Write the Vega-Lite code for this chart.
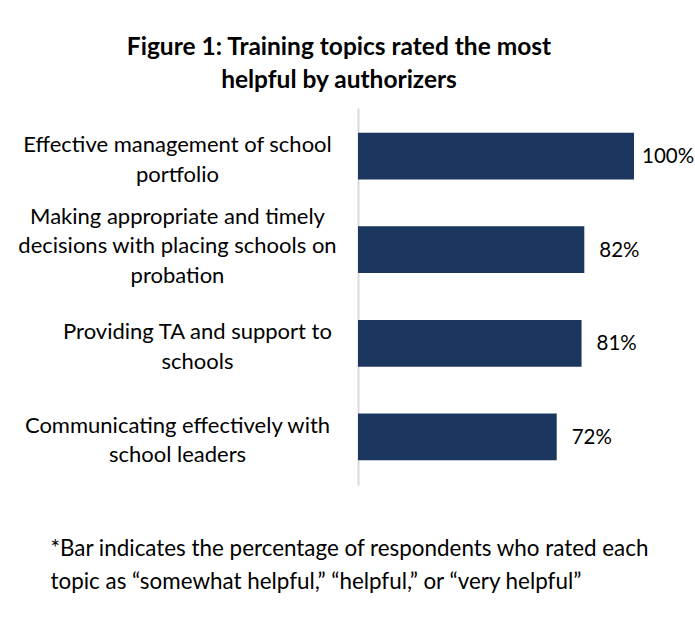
{
  "$schema": "https://vega.github.io/schema/vega-lite/v6.json",
  "autosize": {"type": "none"},
  "width": 276,
  "height": 377,
  "padding": {"left": 358, "top": 108, "right": 61, "bottom": 136},
  "background": "white",
  "title": {
    "text": ["Figure 1: Training topics rated the most", "helpful by authorizers"],
    "font": "Lato",
    "fontSize": 24.5,
    "fontWeight": "bold",
    "color": "#000000",
    "anchor": "middle",
    "dx": -157,
    "offset": 15,
    "lineHeight": 33
  },
  "data": {
    "values": [
      {"topic": "Effective management of school\nportfolio", "share": 1.0},
      {"topic": "Making appropriate and timely\ndecisions with placing schools on\nprobation", "share": 0.82},
      {"topic": "Providing TA and support to\nschools", "share": 0.81},
      {"topic": "Communicating effectively with\nschool leaders", "share": 0.72}
    ]
  },
  "encoding": {
    "y": {
      "field": "topic",
      "type": "nominal",
      "sort": null,
      "scale": {"paddingInner": 0.5, "paddingOuter": 0.265},
      "axis": {
        "title": null,
        "labelExpr": "split(datum.label, '\\n')",
        "labelFont": "Lato",
        "labelFontSize": 22,
        "labelColor": "#000000",
        "labelAlign": "center",
        "labelBaseline": "middle",
        "labelLineHeight": 29.5,
        "labelOffset": {"condition": {"test": "indexof(datum.value, 'Making') == 0", "value": -33}, "value": -11},
        "labelPadding": {"condition": {"test": "indexof(datum.value, 'Providing') == 0", "value": 161}, "value": 181},
        "labelLimit": 600,
        "ticks": false,
        "domainColor": "#D9D9D9",
        "domainWidth": 2
      }
    },
    "x": {
      "field": "share",
      "type": "quantitative",
      "scale": {"domain": [0, 1]},
      "axis": {
        "labels": false,
        "ticks": false,
        "domain": false,
        "grid": false,
        "title": ["*Bar indicates the percentage of respondents who rated each", "topic as “somewhat helpful,” “helpful,” or “very helpful”"],
        "titleFont": "Lato",
        "titleFontSize": 22.4,
        "titleFontWeight": "normal",
        "titleColor": "#000000",
        "titleAlign": "left",
        "titleBaseline": "middle",
        "titleAnchor": "start",
        "titleX": -308,
        "titleY": 63,
        "titleLineHeight": 33
      }
    }
  },
  "layer": [
    {"mark": {"type": "bar", "color": "#1C375F"}},
    {
      "mark": {"type": "text", "align": "left", "baseline": "middle", "dx": {"expr": "datum.share >= 1 ? 8 : 15"}, "dy": 1, "font": "Lato", "fontSize": 20.5, "color": "#000000"},
      "encoding": {"text": {"field": "share", "type": "quantitative", "format": ".0%"}}
    }
  ],
  "config": {"view": {"stroke": null}}
}
